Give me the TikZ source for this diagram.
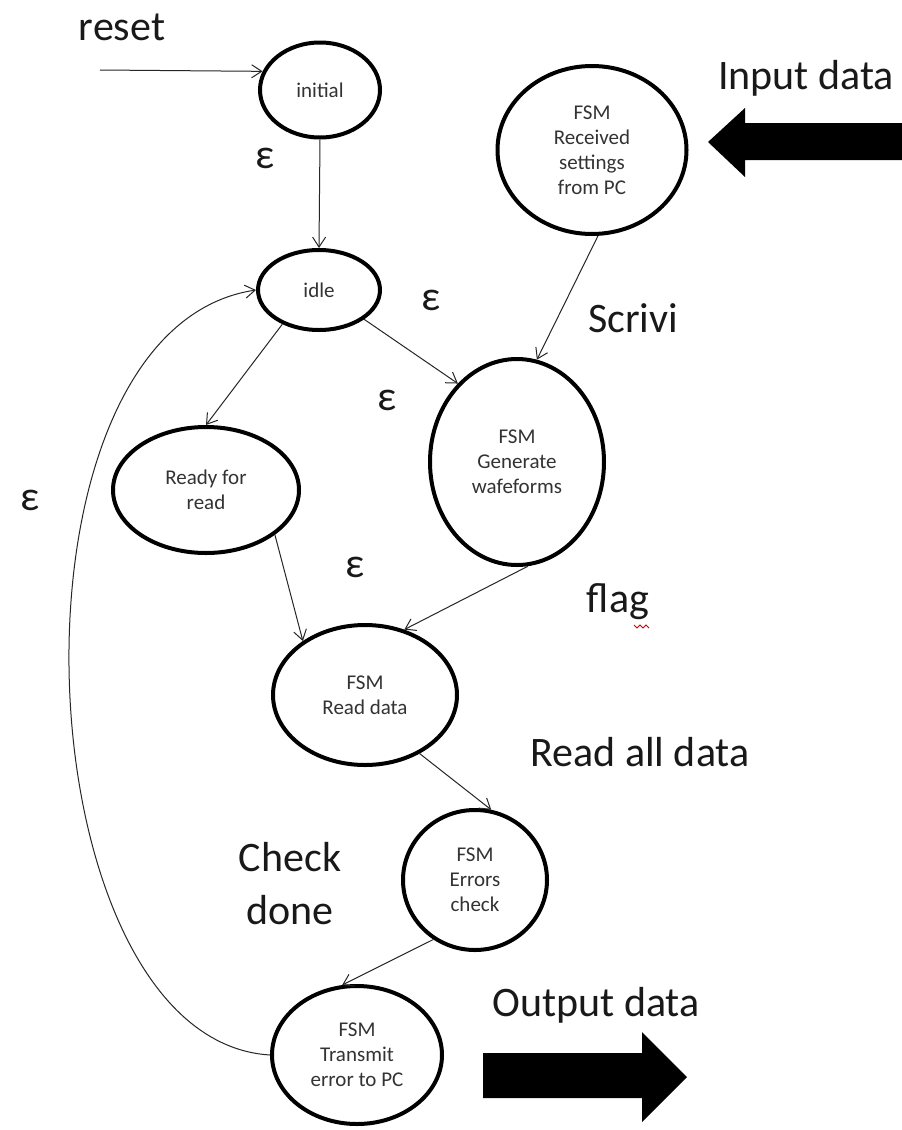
\documentclass[tikz,border=0pt]{standalone}
\usepackage{fontspec}
\setmainfont{Carlito}
\usetikzlibrary{shapes.geometric,arrows.meta}
\begin{document}
\begin{tikzpicture}[x=1pt,y=-1pt,
  state/.style={ellipse,draw=black,line width=4pt,inner sep=0pt,align=center,
    font=\fontsize{21}{25}\selectfont,text=black!80},
  lbl/.style={font=\fontsize{42}{46}\selectfont,text=black!90,inner sep=0pt},
  conn/.style={draw=black!85,line width=1pt,-{Straight Barb[length=10pt,width=13pt,line width=1pt]}}]
\useasboundingbox (0,0) rectangle (902,1130);
\fill[white] (0,0) rectangle (902,1130);

% states
\node[state,minimum width=120pt,minimum height=95pt] (initial) at (320,90) {initial};
\node[state,minimum width=189pt,minimum height=168pt] (recv) at (592,150) {FSM\\Received\\settings\\from PC};
\node[state,minimum width=122pt,minimum height=80pt] (idle) at (319,290) {idle};
\node[state,minimum width=174pt,minimum height=206pt] (gen) at (517,462) {FSM\\Generate\\wafeforms};
\node[state,minimum width=186pt,minimum height=126pt] (ready) at (206,490) {Ready for\\read};
\node[state,minimum width=184pt,minimum height=140pt] (read) at (365,695) {FSM\\Read data};
\node[state,minimum width=144pt,minimum height=140pt] (err) at (475,880) {FSM\\Errors\\check};
\node[state,minimum width=170pt,minimum height=138pt] (tx) at (357,1055) {FSM\\Transmit\\error to PC};

% labels
\node[lbl] (lreset) at (122,27) {reset};
\node[lbl] (linput) at (806,78) {Input data};
\node[lbl] (le1) at (265,158) {ε};
\node[lbl] (le2) at (431,300) {ε};
\node[lbl] (lscrivi) at (633,318) {Scrivi};
\node[lbl] (le3) at (387,400) {ε};
\node[lbl] (le4) at (30,500) {ε};
\node[lbl] (le5) at (355,567) {ε};
\node[lbl] (lflag) at (618,602) {flag};
\node[lbl] (lreadall) at (640,752) {Read all data};
\node[lbl] (lcheck) at (290,857) {Check};
\node[lbl] (ldone) at (290,910) {done};
\node[lbl] (loutput) at (596,1005) {Output data};
\draw[red!80!black,line width=1pt] (634,625) -- (637,628) -- (640,625) -- (643,628) -- (646,625) -- (649,628);

% connectors
\coordinate (rs) at (100,70);
\draw[conn] (rs) -- (initial.162);
\draw[conn] (initial.south) -- (idle.north);
\draw[conn] (idle.-33) -- (gen.127);
\draw[conn] (recv.-86) -- (gen.79);
\draw[conn] (idle.-137) -- (ready.90);
\draw[conn] (ready.-33) -- (read.139);
\draw[conn] (gen.-84) -- (read.59);
\draw[conn] (read.-47) -- (err.77);
\draw[conn] (err.-125) -- (tx.102);
\draw[conn] (tx.west) .. controls (20,1040) and (-10,330) .. (idle.west);

% big arrows
\fill[black] (902,123) -- (745,123) -- (745,108) -- (708,142) -- (745,177) -- (745,160) -- (902,160) -- cycle;
\fill[black] (483,1053) -- (642,1053) -- (642,1032) -- (687,1077) -- (642,1122) -- (642,1098) -- (483,1098) -- cycle;
\end{tikzpicture}
\end{document}
